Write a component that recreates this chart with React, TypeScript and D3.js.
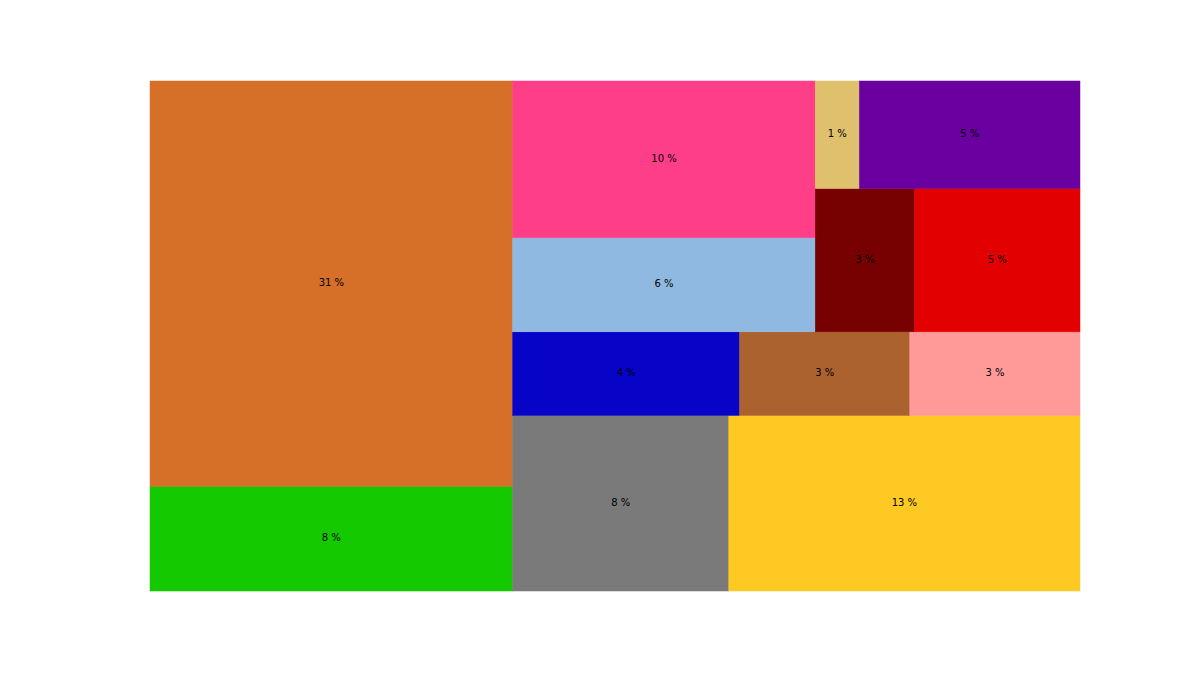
import { useMemo } from "react";
import * as d3 from "d3";

// ── Data (order as laid out by squarify, bottom-left first) ───
const LABELS = ["8 %", "31 %", "8 %", "13 %", "4 %", "3 %", "3 %", "6 %", "10 %", "3 %", "5 %", "1 %", "5 %"];
const VALUES = [8, 31, 8, 13, 4, 3, 3, 6, 10, 3, 5, 1, 5];
const COLORS = [
  "#15c900", "#d66f27", "#7a7a7a", "#fec922", "#0704c8", "#ab622f", "#ff9a99",
  "#8fb9e0", "#ff3e88", "#770000", "#e30000", "#dfc06d", "#6a00a0",
];

// ── Geometry ──────────────────────────────────────────────────
const W = 1200;
const H = 675;
const PAD = { top: 81, right: 120, bottom: 84, left: 150 };
const NORM = 100;

interface Leaf {
  label: string;
  value: number;
  color: string;
}

// worst aspect ratio of a row laid out inside (dx, dy)
function worst(row: number[], dx: number, dy: number): number {
  const area = d3.sum(row);
  let w = 0;
  if (dx >= dy) {
    const width = area / dy;
    for (const s of row) {
      const h = s / width;
      w = Math.max(w, width / h, h / width);
    }
  } else {
    const height = area / dx;
    for (const s of row) {
      const ww = s / height;
      w = Math.max(w, ww / height, height / ww);
    }
  }
  return w;
}

// squarify tiling, y axis pointing up (flipped later by the scale)
function squarifyTile(parent: any, x0: number, y0: number, x1: number, y1: number) {
  const nodes = parent.children;
  const k = ((x1 - x0) * (y1 - y0)) / parent.value;
  const sizes: number[] = nodes.map((n: any) => n.value * k);
  let x = x0, y = y0, dx = x1 - x0, dy = y1 - y0;
  let i0 = 0;
  while (i0 < sizes.length) {
    let i = i0 + 1;
    while (i < sizes.length && worst(sizes.slice(i0, i), dx, dy) >= worst(sizes.slice(i0, i + 1), dx, dy)) i++;
    const row = sizes.slice(i0, i);
    const area = d3.sum(row);
    if (dx >= dy) {
      const width = area / dy;
      let yy = y;
      row.forEach((s, j) => {
        const n = nodes[i0 + j];
        n.x0 = x; n.x1 = x + width; n.y0 = yy; n.y1 = yy + s / width;
        yy += s / width;
      });
      x += width; dx -= width;
    } else {
      const height = area / dx;
      let xx = x;
      row.forEach((s, j) => {
        const n = nodes[i0 + j];
        n.x0 = xx; n.x1 = xx + s / height; n.y0 = y; n.y1 = y + height;
        xx += s / height;
      });
      y += height; dy -= height;
    }
    i0 = i;
  }
}

export default function App() {
  const leaves = useMemo(() => {
    const data: Leaf[] = VALUES.map((v, i) => ({ label: LABELS[i], value: v, color: COLORS[i] }));
    const root = d3.hierarchy<any>({ children: data }).sum((d: any) => d.value ?? 0);
    d3.treemap<any>().tile(squarifyTile as any).size([NORM, NORM])(root);
    return root.leaves() as d3.HierarchyRectangularNode<any>[];
  }, []);

  const x = d3.scaleLinear().domain([0, NORM]).range([PAD.left, W - PAD.right]);
  const y = d3.scaleLinear().domain([0, NORM]).range([H - PAD.bottom, PAD.top]);

  return (
    <svg width={W} height={H} style={{ position: "absolute", left: 0, top: 0, background: "#fff" }}>
      {leaves.map((n, i) => (
        <rect
          key={`r-${i}`}
          x={x(n.x0)}
          y={y(n.y1)}
          width={x(n.x1) - x(n.x0)}
          height={y(n.y0) - y(n.y1)}
          fill={n.data.color}
          stroke={n.data.color}
          strokeWidth={0.5}
        />
      ))}
      {leaves.map((n, i) => (
        <text
          key={`t-${i}`}
          x={(x(n.x0) + x(n.x1)) / 2}
          y={(y(n.y0) + y(n.y1)) / 2 - 0.8}
          textAnchor="middle"
          dominantBaseline="central"
          fontFamily="DejaVu Sans"
          fontSize={10}
          fill="#000"
        >
          {n.data.label}
        </text>
      ))}
    </svg>
  );
}
